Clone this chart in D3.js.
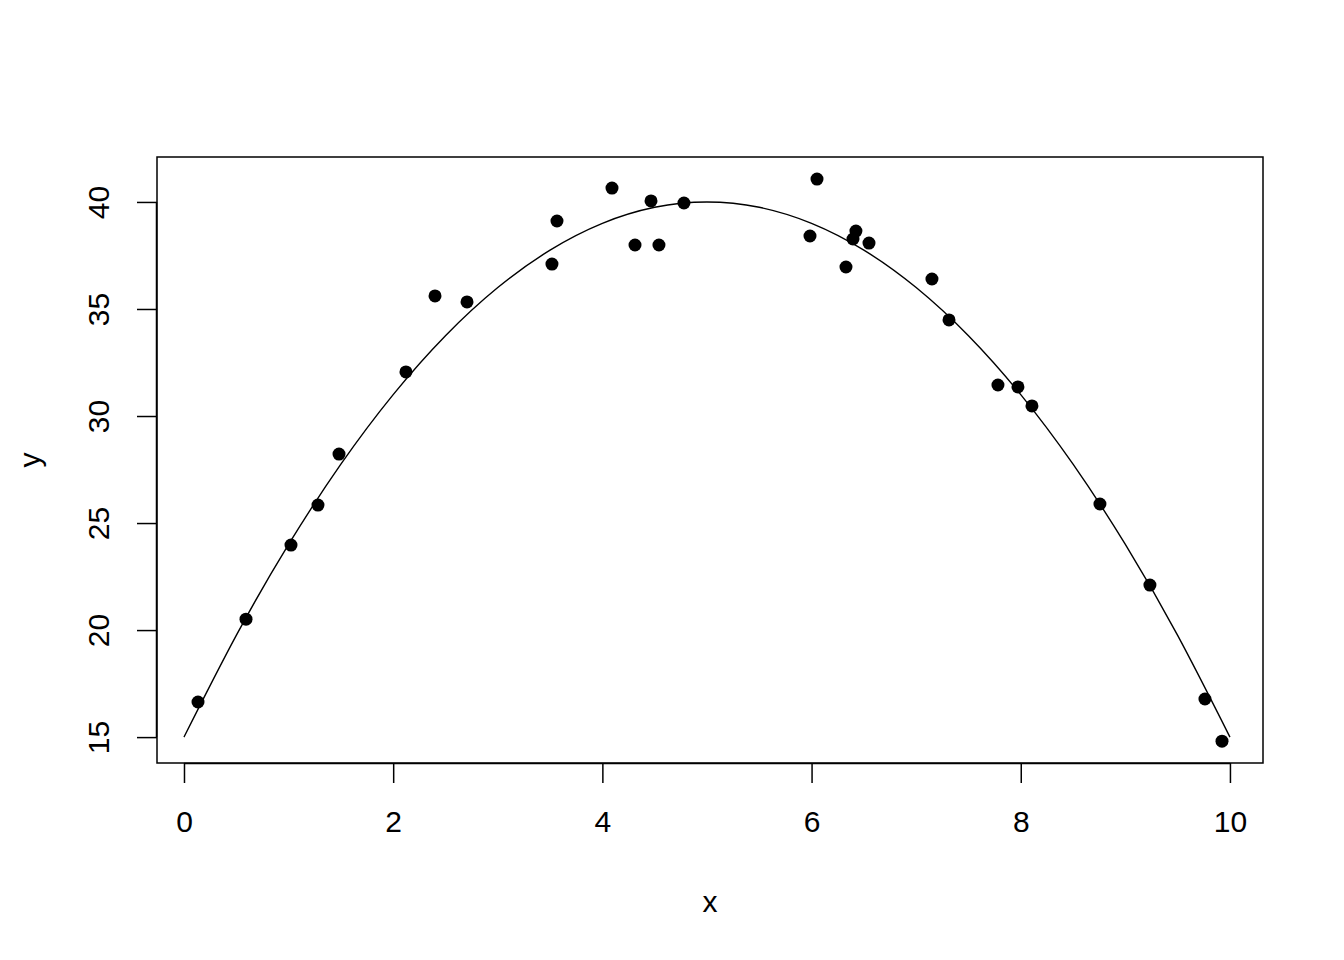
<!DOCTYPE html>
<html><head><meta charset="utf-8">
<script src="https://cdn.jsdelivr.net/npm/d3@7"></script>
<style>body{margin:0;background:#fff}svg{display:block}</style>
</head><body>
<script>
const pointX = [0.134,0.593,1.023,1.281,1.482,2.122,2.40,2.706,3.518,3.566,4.092,4.312,4.465,4.541,4.78,5.985,6.052,6.329,6.396,6.424,6.549,7.151,7.314,7.782,7.973,8.107,8.757,9.235,9.761,9.924];
const pointY = [16.64,20.51,23.97,25.84,28.22,32.06,35.61,35.33,37.10,39.11,40.65,37.99,40.05,37.99,39.95,38.41,41.07,36.96,38.27,38.64,38.08,36.40,34.49,31.45,31.36,30.47,25.89,22.10,16.78,14.81];
const curveX = [0,0.5,1,1.5,2,2.5,3,3.5,4,4.5,5,5.5,6,6.5,7,7.5,8,8.5,9,9.5,10];
const curveY = [15,19.75,24,27.75,31,33.75,36,37.75,39,39.75,40,39.75,39,37.75,36,33.75,31,27.75,24,19.75,15];
const xTicks = [0,2,4,6,8,10];
const yTicks = [15,20,25,30,35,40];

const W=1344,H=960, L=157,R=1263,T=157,B=763;
const svg=d3.select("body").append("svg").attr("width",W).attr("height",H);
const x=d3.scaleLinear().domain([-0.258,10.316]).range([L,R]);
const y=d3.scaleLinear().domain([13.79,42.1]).range([B,T]);
const font="Liberation Sans, Arial, sans-serif";
const fs=30;

const xa=svg.append("g").attr("transform",`translate(0,${B})`)
  .call(d3.axisBottom(x).tickValues(xTicks).tickSize(20).tickPadding(28).tickFormat(d3.format("d")));
xa.select(".domain").attr("d",`M${x(0)},0.5H${x(10)}`);
const ya=svg.append("g").attr("transform",`translate(${L},0)`)
  .call(d3.axisLeft(y).tickValues(yTicks).tickSize(20).tickFormat(d3.format("d")));
ya.select(".domain").attr("d",`M-0.5,${y(15)}V${y(40)}`);
[xa,ya].forEach(a=>{a.selectAll("line").attr("stroke","#000").attr("stroke-width",1.5);
  a.selectAll("path").attr("stroke","#000").attr("stroke-width",1.5);
  a.selectAll("text").attr("font-family",font).attr("font-size",fs).attr("fill","#000");});
ya.selectAll(".tick text").attr("text-anchor","middle").attr("dy",null).attr("x",null)
  .attr("transform","translate(-56,0) rotate(-90)").attr("dominant-baseline","middle");

svg.append("rect").attr("x",L).attr("y",T).attr("width",R-L).attr("height",B-T)
  .attr("fill","none").attr("stroke","#000").attr("stroke-width",1.5);

const line=d3.line().x(d=>x(d[0])).y(d=>y(d[1])).curve(d3.curveNatural);
svg.append("path").datum(curveX.map((v,i)=>[v,curveY[i]])).attr("d",line)
  .attr("fill","none").attr("stroke","#000").attr("stroke-width",1.4);

svg.append("g").selectAll("circle").data(pointX.map((v,i)=>[v,pointY[i]])).join("circle")
  .attr("cx",d=>x(d[0])).attr("cy",d=>y(d[1])).attr("r",6.5).attr("fill","#000");

svg.append("text").attr("x",(L+R)/2).attr("y",912).attr("text-anchor","middle")
  .attr("font-family",font).attr("font-size",fs).text("x");
svg.append("text").attr("transform",`translate(40,${(T+B)/2}) rotate(-90)`).attr("text-anchor","middle")
  .attr("font-family",font).attr("font-size",fs).text("y");
</script>
</body></html>
